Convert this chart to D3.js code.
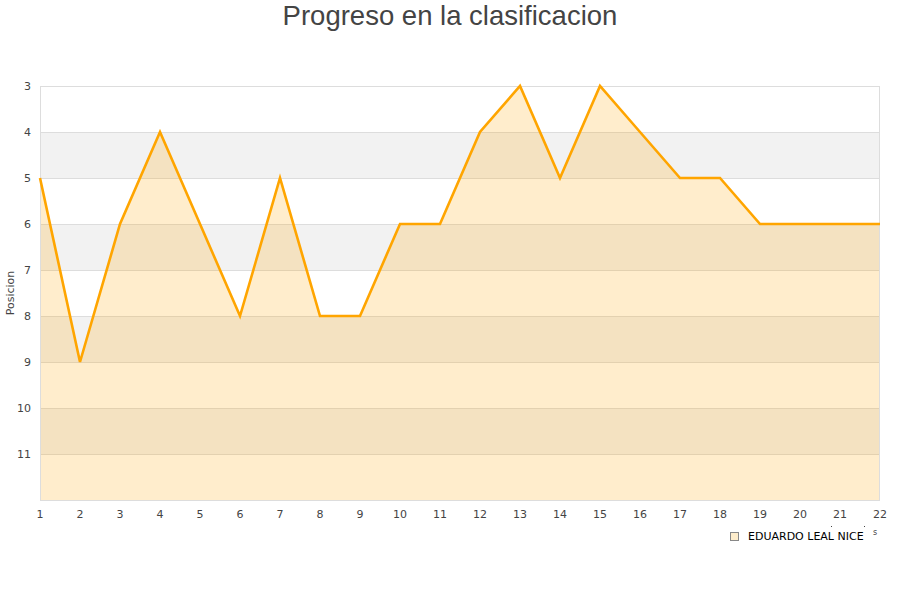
<!DOCTYPE html>
<html><head><meta charset="utf-8">
<script src="https://cdn.jsdelivr.net/npm/d3@7"></script>
<style>body{margin:0;background:#fff}svg{display:block}</style>
</head><body>
<script>
const jornadas = [1,2,3,4,5,6,7,8,9,10,11,12,13,14,15,16,17,18,19,20,21,22];
const posiciones = [5,9,6,4,6,8,5,8,8,6,6,4,3,5,3,4,5,5,6,6,6,6];
const yTicks = [3,4,5,6,7,8,9,10,11];
const title = "Progreso en la clasificacion";
const seriesName = "EDUARDO LEAL NICE";
const yTitle = "Posicion";

const W=900,H=600, L=40,R=880,T=86,B=500;
const svg=d3.select("body").append("svg").attr("width",W).attr("height",H);
const x=d3.scaleLinear().domain([1,22]).range([L,R]);
const y=d3.scaleLinear().domain([3,12]).range([T,B]);

// bands
const bands=d3.range(3,12);
svg.selectAll("rect.band").data(bands).enter().append("rect")
  .attr("x",L).attr("width",R-L).attr("y",d=>y(d)).attr("height",d=>y(d+1)-y(d))
  .attr("fill",(d,i)=>i%2? "#f2f2f2":"#ffffff");
// grid
svg.selectAll("line.grid").data(yTicks.slice(1).concat([12])).enter().append("line")
  .attr("x1",L).attr("x2",R).attr("y1",d=>y(d)+0.5).attr("y2",d=>y(d)+0.5)
  .attr("stroke","#dddddd");
// area
const data=jornadas.map((j,i)=>({j,p:posiciones[i]}));
svg.append("path").datum(data)
  .attr("d",d3.area().x(d=>x(d.j)).y0(y(12)).y1(d=>y(d.p)))
  .attr("fill","#ffa500").attr("fill-opacity",0.2);
// border
svg.append("rect").attr("x",L+0.5).attr("y",T+0.5).attr("width",R-L-1).attr("height",B-T)
  .attr("fill","none").attr("stroke","#dddddd");
// line
svg.append("path").datum(data)
  .attr("d",d3.line().x(d=>x(d.j)).y(d=>y(d.p)))
  .attr("fill","none").attr("stroke","#ffa500").attr("stroke-width",2.6).attr("stroke-linejoin","miter");

// y axis labels
svg.selectAll("text.yt").data(yTicks).enter().append("text")
  .attr("x",31).attr("y",d=>y(d)+4).attr("text-anchor","end")
  .attr("font-family","DejaVu Sans").attr("font-size",11).attr("fill","#444")
  .text(d=>d);
// x axis labels
svg.selectAll("text.xt").data(jornadas).enter().append("text")
  .attr("x",d=>x(d)).attr("y",518).attr("text-anchor","middle")
  .attr("font-family","DejaVu Sans").attr("font-size",11).attr("fill","#444")
  .text(d=>d);
// y title
svg.append("text").attr("transform","translate(14,293) rotate(-90)")
  .attr("text-anchor","middle").attr("font-family","DejaVu Sans").attr("font-size",11).attr("fill","#444")
  .text(yTitle);
// title
svg.append("text").attr("x",450).attr("y",25).attr("text-anchor","middle")
  .attr("font-family","Liberation Sans").attr("font-size",27.5).attr("fill","#444")
  .text(title);
// legend
svg.append("rect").attr("x",730.5).attr("y",532.5).attr("width",8).attr("height",8)
  .attr("fill","#feedcb").attr("stroke","#888");
svg.append("text").attr("x",748).attr("y",540)
  .attr("font-family","DejaVu Sans").attr("font-size",11).attr("fill","#000")
  .text(seriesName);
// cut-off axis title fragments
svg.append("text").attr("x",873).attr("y",535).attr("font-family","DejaVu Sans").attr("font-size",8).attr("fill","#444").text("s");
svg.append("rect").attr("x",831).attr("y",526).attr("width",1).attr("height",1).attr("fill","#444");
svg.append("rect").attr("x",864).attr("y",526).attr("width",1).attr("height",1).attr("fill","#444");
</script>
</body></html>
